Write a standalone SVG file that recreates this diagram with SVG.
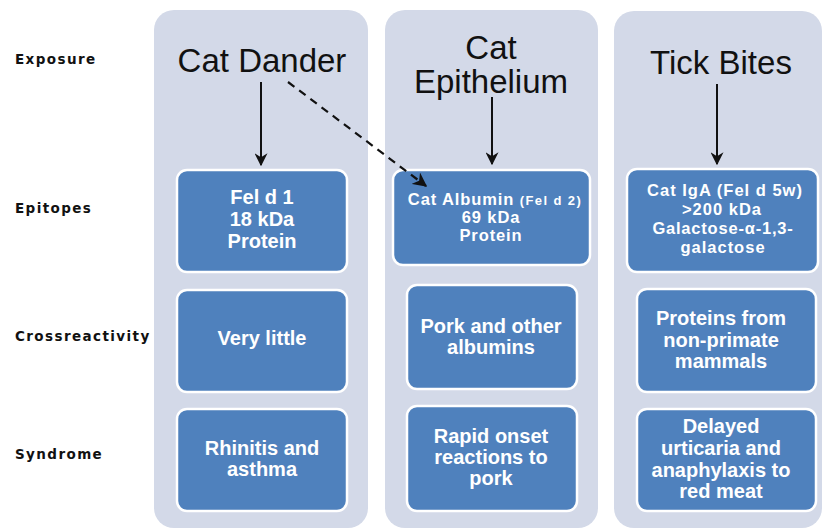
<svg xmlns="http://www.w3.org/2000/svg" width="824" height="531" viewBox="0 0 824 531">
<defs>
<style>
.col{fill:#d3d9e8}
.box{fill:#4f81bd;stroke:#ffffff;stroke-width:2.5}
.title{font-family:"Liberation Sans",Arial,sans-serif;font-size:33px;fill:#111111;text-anchor:middle}
.bt{font-family:"Liberation Sans",Arial,sans-serif;font-weight:bold;font-size:20px;fill:#ffffff;text-anchor:middle}
.st{font-family:"Liberation Sans",Arial,sans-serif;font-weight:bold;font-size:16px;fill:#ffffff;text-anchor:middle}
.row{font-family:"DejaVu Sans",sans-serif;font-weight:bold;font-size:13.5px;fill:#111111;letter-spacing:1.4px}
.arr{stroke:#111111;stroke-width:2;fill:none;marker-end:url(#ah)}
.dash{stroke:#111111;stroke-width:2.2;fill:none;stroke-dasharray:8,6;marker-end:url(#ah)}
</style>
<marker id="ah" viewBox="0 0 10 10" refX="9" refY="5" markerWidth="6.5" markerHeight="6.5" orient="auto" markerUnits="strokeWidth">
<path d="M0,0 L10,5 L0,10 L3,5 z" fill="#111111"/>
</marker>
</defs>
<rect width="824" height="531" fill="#ffffff"/>

<g id="row-labels">
<text class="row" x="15" y="64">Exposure</text>
<text class="row" x="15" y="213">Epitopes</text>
<text class="row" x="15" y="341">Crossreactivity</text>
<text class="row" x="15" y="459">Syndrome</text>
</g>

<g id="col-bg">
<rect class="col" x="154" y="10" width="214" height="518" rx="20"/>
<rect class="col" x="385" y="10" width="213" height="518" rx="20"/>
<rect class="col" x="614" y="11" width="208" height="517" rx="20"/>
</g>

<g id="cat-dander"><text class="title" x="262" y="72">Cat Dander</text></g>
<g id="cat-epithelium"><text class="title" x="491" y="59">Cat</text><text class="title" x="491" y="93">Epithelium</text></g>
<g id="tick-bites"><text class="title" x="721" y="74">Tick Bites</text></g>

<g id="fel-d-1">
<rect class="box" x="177" y="170" width="170" height="102" rx="10"/>
<text class="bt" x="262" y="204">Fel d 1</text>
<text class="bt" x="262" y="226">18 kDa</text>
<text class="bt" x="262" y="248">Protein</text>
</g>
<g id="cat-albumin">
<rect class="box" x="393" y="170" width="197" height="95" rx="10"/>
<text class="st" x="495" y="205" style="font-size:16.5px;letter-spacing:0.9px">Cat Albumin <tspan style="font-size:13px;letter-spacing:1.4px">(Fel d 2)</tspan></text>
<text class="st" x="491" y="223" style="font-size:16.5px;letter-spacing:0.9px">69 kDa</text>
<text class="st" x="491" y="241" style="font-size:16.5px;letter-spacing:0.9px">Protein</text>
</g>
<g id="cat-iga">
<rect class="box" x="627" y="169" width="191" height="103" rx="10"/>
<text class="st" x="725" y="196" style="font-size:16.5px;letter-spacing:1px">Cat IgA (Fel d 5w)</text>
<text class="st" x="722" y="215" style="font-size:16.5px;letter-spacing:1px">&gt;200 kDa</text>
<text class="st" x="723" y="234" style="font-size:16.5px;letter-spacing:0.8px">Galactose-α-1,3-</text>
<text class="st" x="723" y="253" style="font-size:16.5px;letter-spacing:1px">galactose</text>
</g>

<g id="very-little">
<rect class="box" x="177" y="290" width="170" height="102" rx="10"/>
<text class="bt" x="262" y="345">Very little</text>
</g>
<g id="pork-albumins">
<rect class="box" x="407" y="285" width="170" height="104" rx="10"/>
<text class="bt" x="491" y="333">Pork and other</text>
<text class="bt" x="491" y="354">albumins</text>
</g>
<g id="non-primate">
<rect class="box" x="637" y="289" width="179" height="103" rx="10"/>
<text class="bt" x="721" y="325">Proteins from</text>
<text class="bt" x="721" y="347">non-primate</text>
<text class="bt" x="721" y="368">mammals</text>
</g>

<g id="rhinitis">
<rect class="box" x="177" y="409" width="170" height="102" rx="10"/>
<text class="bt" x="262" y="455">Rhinitis and</text>
<text class="bt" x="262" y="476">asthma</text>
</g>
<g id="rapid-onset">
<rect class="box" x="407" y="406" width="170" height="105" rx="10"/>
<text class="bt" x="491" y="443">Rapid onset</text>
<text class="bt" x="491" y="464">reactions to</text>
<text class="bt" x="491" y="485">pork</text>
</g>
<g id="delayed">
<rect class="box" x="637" y="409" width="179" height="102" rx="10"/>
<text class="bt" x="721" y="433">Delayed</text>
<text class="bt" x="721" y="455">urticaria and</text>
<text class="bt" x="721" y="477">anaphylaxis to</text>
<text class="bt" x="721" y="498">red meat</text>
</g>

<g id="connectors">
<line class="arr" x1="261" y1="82" x2="261" y2="165"/>
<line class="arr" x1="492" y1="97" x2="492" y2="164"/>
<line class="arr" x1="717" y1="84" x2="717" y2="164"/>
<line class="dash" x1="288" y1="82" x2="426" y2="186"/>
</g>
</svg>
